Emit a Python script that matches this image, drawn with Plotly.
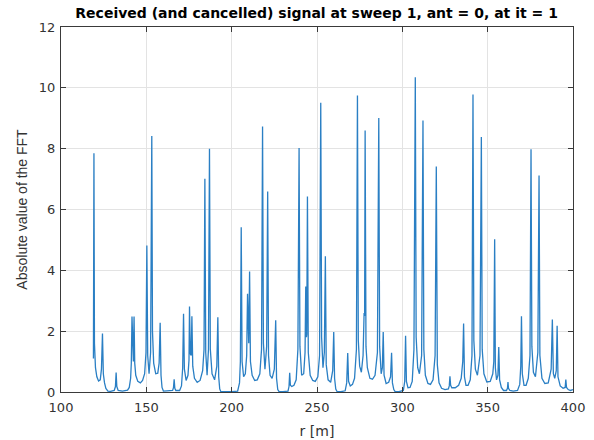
import plotly.graph_objects as go

# ---- data: range r [m] and |FFT|, split by region ----
r_1 = [119.0, 119.3, 119.6, 120.2, 121.0, 122.0, 123.0, 123.7, 124.3, 124.8, 125.5, 126.3, 127.5]
v_1 = [1.10, 7.85, 1.60, 0.80, 0.50, 0.36, 0.40, 0.75, 1.92, 0.60, 0.30, 0.12, 0.03]

r_2 = [129.0, 131.2, 131.9, 132.3, 132.7, 133.5, 136.0, 139.0]
v_2 = [0.02, 0.05, 0.18, 0.64, 0.18, 0.05, 0.03, 0.06]

r_3 = [140.0, 140.8, 141.2, 141.6, 142.0, 142.4, 142.8, 143.2, 143.8, 145.0, 146.5, 147.8, 149.0, 149.8,
       150.3, 150.8, 151.6, 152.5, 153.2, 153.6, 154.3, 155.5, 156.7, 157.5, 158.1, 158.6, 159.2, 160.0]
v_3 = [0.15, 0.45, 0.95, 2.48, 1.05, 1.00, 2.48, 0.95, 0.55, 0.35, 0.30, 0.38, 0.60, 1.30,
       4.82, 1.20, 0.60, 1.30, 8.42, 2.00, 0.95, 0.60, 0.62, 0.95, 2.28, 0.55, 0.15, 0.03]

r_4 = [162.0, 165.4, 165.9, 166.3, 166.7, 167.3, 169.5, 170.6]
v_4 = [0.04, 0.05, 0.14, 0.42, 0.12, 0.05, 0.05, 0.20]

r_5 = [171.3, 171.8, 172.3, 173.3, 174.4, 175.0, 175.3, 175.8, 176.3, 176.7, 177.2, 178.2, 179.8, 181.5, 183.0,
       183.8, 184.3, 184.8, 185.6, 186.4, 187.0, 187.5, 188.5, 190.0, 191.3, 191.9, 192.4, 193.0, 193.6]
v_5 = [0.80, 2.57, 0.75, 0.38, 0.55, 1.05, 2.81, 1.25, 1.20, 2.49, 0.85, 0.45, 0.32, 0.38, 0.70,
       1.40, 7.01, 1.30, 0.55, 1.40, 8.00, 1.40, 0.60, 0.40, 0.85, 2.46, 0.50, 0.10, 0.02]

r_6 = [196.0, 200.0, 203.5, 204.6]
v_6 = [0.01, 0.01, 0.03, 0.30]

r_7 = [205.1, 205.6, 206.1, 207.0, 208.0, 208.8, 209.3, 209.7, 210.0, 210.5, 211.0, 212.0, 213.5, 215.0, 216.5,
       217.5, 218.1, 218.6, 219.5, 220.5, 221.1, 221.6, 222.5, 223.7, 225.0, 225.8, 226.3, 227.0, 227.8]
v_7 = [1.00, 5.42, 1.00, 0.50, 0.60, 1.20, 3.23, 1.70, 1.60, 3.96, 1.00, 0.55, 0.38, 0.40, 0.60,
       1.40, 8.73, 1.60, 0.75, 1.50, 6.59, 1.20, 0.55, 0.45, 0.75, 2.36, 0.45, 0.08, 0.01]

r_8 = [230.0, 233.0, 233.6, 234.0, 234.4, 235.2, 236.5, 237.8, 238.8]
v_8 = [0.01, 0.03, 0.18, 0.63, 0.22, 0.18, 0.22, 0.40, 1.40]

r_9 = [239.5, 240.0, 241.0, 242.2, 243.0, 243.4, 243.8, 244.0, 244.4, 244.9, 246.0, 247.5, 249.0, 250.5,
       251.5, 252.2, 252.7, 253.5, 254.3, 254.9, 255.4, 256.5, 258.0, 259.2, 259.8, 260.3, 261.0, 261.8]
v_9 = [8.02, 1.50, 0.55, 0.60, 1.30, 3.47, 1.80, 1.90, 6.43, 1.30, 0.55, 0.38, 0.35, 0.50,
       1.20, 9.51, 1.80, 0.80, 1.30, 4.46, 0.90, 0.40, 0.32, 0.70, 1.97, 0.45, 0.10, 0.01]

r_10 = [264.0, 266.5, 267.4, 268.0, 268.5, 269.5, 270.8, 272.0, 273.1]
v_10 = [0.01, 0.04, 0.30, 1.28, 0.35, 0.20, 0.25, 0.45, 1.40]

r_11 = [273.7, 274.2, 275.0, 276.0, 277.0, 277.6, 277.9, 278.2, 278.7, 279.5, 281.0, 282.5, 284.0, 285.4,
        286.2, 286.7, 287.6, 288.3, 288.8, 289.3, 290.5, 292.0, 293.1, 293.7, 294.2, 295.0, 295.8]
v_11 = [9.75, 1.70, 0.85, 0.65, 1.20, 2.60, 2.50, 8.60, 1.50, 0.80, 0.45, 0.42, 0.55, 1.30,
        9.01, 1.50, 0.60, 0.80, 1.97, 0.55, 0.28, 0.32, 0.50, 1.29, 0.30, 0.08, 0.01]

r_12 = [298.0, 300.6, 301.4, 301.9, 302.4, 303.3, 304.5, 305.8, 306.8]
v_12 = [0.01, 0.05, 0.35, 1.85, 0.35, 0.14, 0.15, 0.35, 1.40]

r_13 = [307.6, 308.1, 309.0, 310.0, 311.3, 312.1, 312.6, 313.5, 315.0, 316.5, 318.0, 319.2, 319.9, 320.5, 321.5, 323.0]
v_13 = [10.35, 1.80, 0.80, 0.60, 1.20, 8.93, 1.40, 0.55, 0.28, 0.25, 0.40, 1.20, 7.41, 0.90, 0.30, 0.12]

r_14 = [325.0, 327.0, 327.5, 327.9, 328.3, 329.0, 331.0, 333.0, 334.5, 335.4]
v_14 = [0.08, 0.10, 0.20, 0.52, 0.22, 0.14, 0.14, 0.22, 0.45, 1.00]

r_15 = [335.9, 336.4, 337.3, 338.5, 339.8, 340.8, 341.4, 341.9, 342.8, 344.0, 345.5, 346.3, 346.8,
        347.8, 349.5, 351.5, 353.0, 353.6, 354.1, 354.5, 355.2, 356.0, 356.5, 357.0, 358.0, 359.3]
v_15 = [2.25, 0.50, 0.22, 0.22, 0.40, 1.20, 9.78, 1.70, 0.75, 0.55, 1.20, 8.38, 1.40,
        0.60, 0.33, 0.35, 0.60, 1.00, 5.02, 0.80, 0.40, 0.55, 1.48, 0.40, 0.15, 0.05]

r_16 = [361.0, 361.6, 361.9, 362.2, 363.0, 365.0, 367.5, 368.8, 369.4]
v_16 = [0.05, 0.12, 0.33, 0.12, 0.05, 0.03, 0.05, 0.25, 0.85]

r_17 = [369.8, 370.3, 371.3, 372.5, 373.8, 374.8, 375.4, 375.9, 376.8, 378.0, 379.4, 380.1, 380.6, 381.8, 383.5, 385.5,
        387.2, 387.9, 388.5, 389.3, 390.2, 390.7, 391.2, 392.5, 394.2, 395.4, 395.8, 396.2, 397.2, 398.5, 400.0]
v_17 = [2.49, 0.60, 0.22, 0.22, 0.45, 1.20, 7.98, 1.50, 0.65, 0.50, 1.30, 7.12, 1.20, 0.45, 0.28, 0.30,
        0.75, 2.38, 0.60, 0.45, 0.70, 2.18, 0.50, 0.20, 0.12, 0.15, 0.41, 0.15, 0.08, 0.05, 0.08]

x_ticks = [100, 150, 200, 250, 300, 350, 400]
y_ticks = [0, 2, 4, 6, 8, 10, 12]

title_text = "Received (and cancelled) signal at sweep 1, ant = 0, at it = 1"
x_label = "r [m]"
y_label = "Absolute value of the FFT"

r_all = (r_1 + r_2 + r_3 + r_4 + r_5 + r_6 + r_7 + r_8 + r_9 + r_10 + r_11 + r_12 + r_13
         + r_14 + r_15 + r_16 + r_17)
v_all = (v_1 + v_2 + v_3 + v_4 + v_5 + v_6 + v_7 + v_8 + v_9 + v_10 + v_11 + v_12 + v_13
         + v_14 + v_15 + v_16 + v_17)

fig = go.Figure()
fig.add_trace(go.Scatter(x=r_all, y=v_all, mode="lines",
                         line=dict(color="#2a7fc4", width=1.3), showlegend=False))

wide_font = "DejaVu Sans"
axis_common = dict(
    showgrid=True, gridcolor="#e3e3e3", gridwidth=1,
    showline=True, linecolor="#3a3a3a", linewidth=1, mirror="allticks",
    ticks="inside", ticklen=5, tickcolor="#3a3a3a",
    tickfont=dict(family=wide_font, size=13, color="#333333"),
    zeroline=False, automargin=False,
)

fig.update_layout(
    width=594, height=440,
    margin=dict(l=61, r=21, t=27, b=48),
    paper_bgcolor="white", plot_bgcolor="white",
    title=dict(text="<b>" + title_text + "</b>", x=0.533, xanchor="center", y=0.97, yanchor="middle",
               font=dict(family=wide_font, size=14, color="#000000")),
    xaxis=dict(range=[100, 400], tickvals=x_ticks, ticklabelstandoff=3, **axis_common,
               title=dict(text=x_label, standoff=12,
                          font=dict(family=wide_font, size=14, color="#333333"))),
    yaxis=dict(range=[0, 12], tickvals=y_ticks, ticklabelstandoff=2, **axis_common,
               title=dict(text=y_label, standoff=7,
                          font=dict(family="Liberation Sans, Arial", size=14, color="#333333"))),
)

fig.write_html("out.html")
